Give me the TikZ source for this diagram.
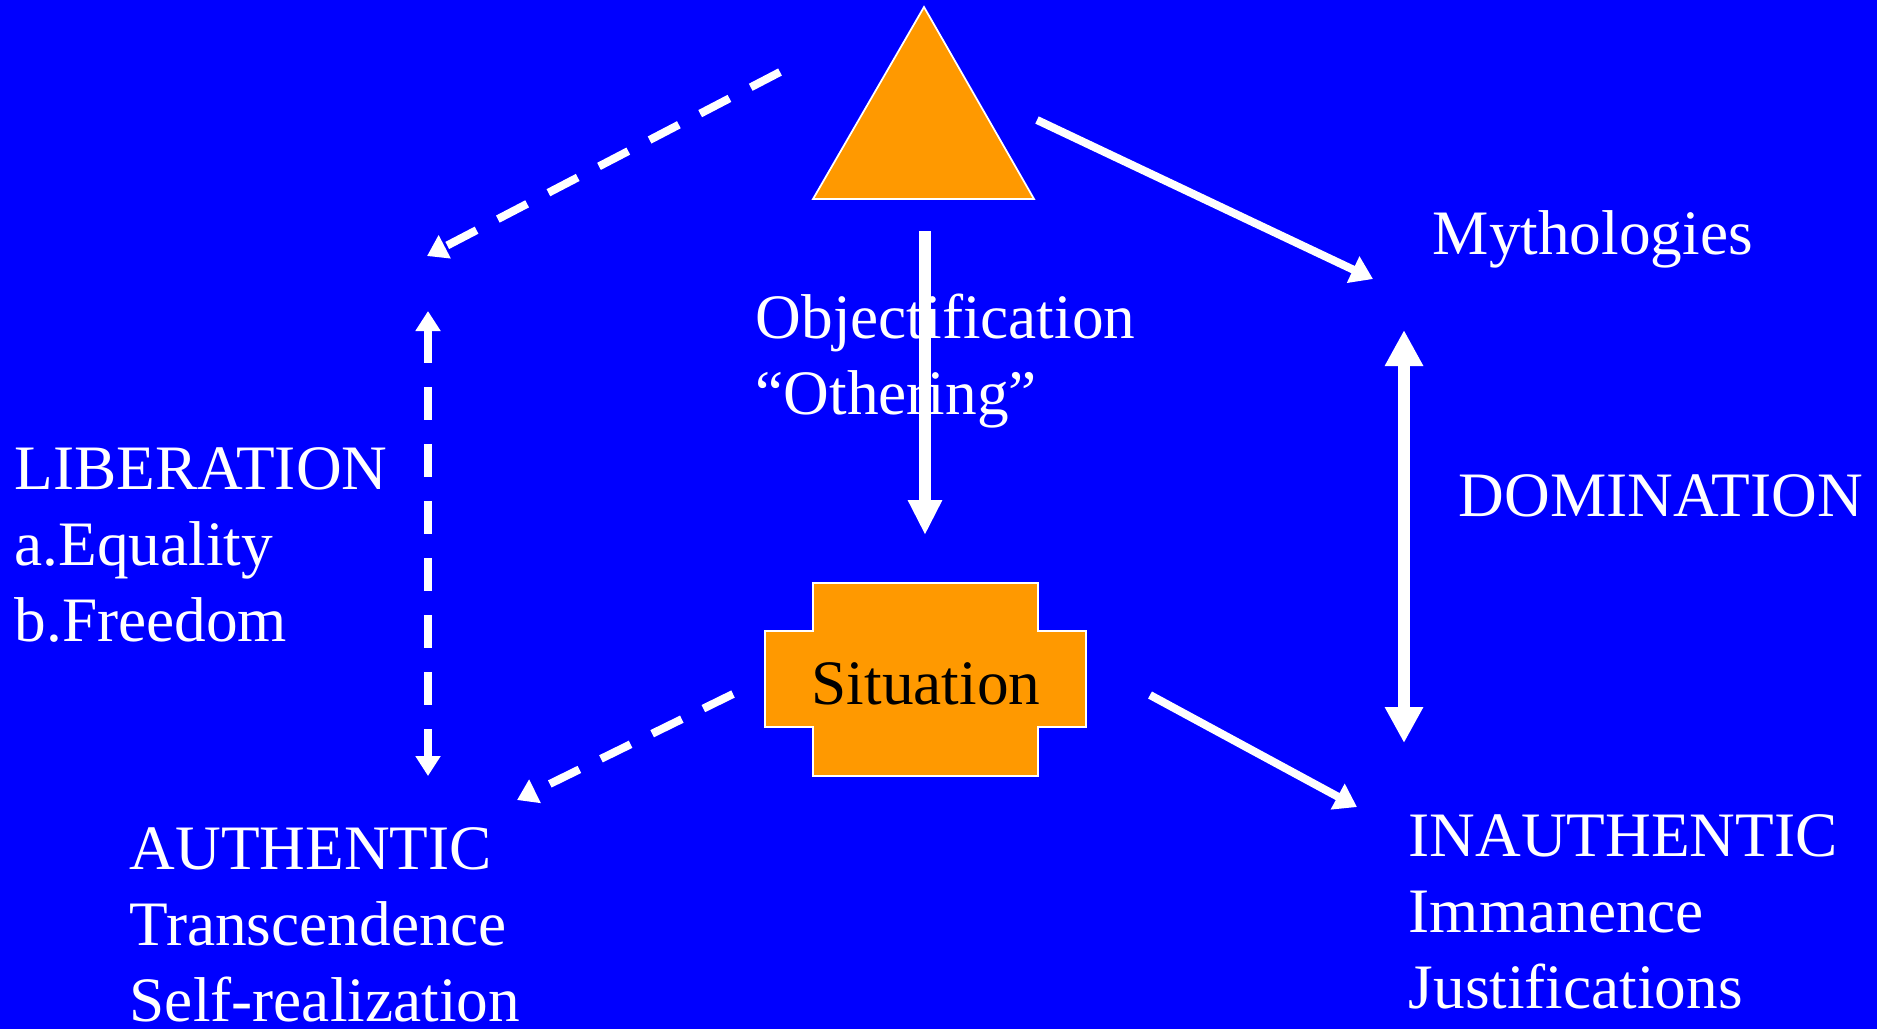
\documentclass[tikz,border=0pt]{standalone}
\usepackage{fontspec}
\setmainfont{Liberation Serif}
\usetikzlibrary{arrows.meta}
\definecolor{slide_blue}{RGB}{0, 0, 255}
\definecolor{amber}{RGB}{255, 153, 0}

\begin{document}
\begin{tikzpicture}[
    x=0.01cm, y=-0.01cm,
    % Node styles
    caption/.style={
        text=#1,
        inner sep=0pt,
        align=left,
        font=\fontsize{18}{21.5}\selectfont
    },
    caption/.default=white,
    block/.style={
        fill=amber,
        draw=white,
        line width=0.5pt
    },
    arrow/.style={
        -{Triangle[length=0.22cm, width=0.28cm]},
        draw=white,
        line width=0.08cm,
        #1
    },
    thick_arrow/.style={
        -{Triangle[length=0.35cm, width=0.32cm]},
        draw=white,
        line width=0.115cm
    },
    double_arrow/.style={
        {Triangle[length=0.36cm, width=0.36cm]}-{Triangle[length=0.36cm, width=0.36cm]},
        draw=white,
        line width=0.12cm
    },
    dash_arrow/.style={
        -{Triangle[length=0.2cm, width=0.25cm]},
        draw=white,
        line width=0.08cm,
        dash pattern=on 0.33cm off 0.24cm
    },
    dash_double/.style={
        {Triangle[length=0.2cm, width=0.24cm]}-{Triangle[length=0.2cm, width=0.24cm]},
        draw=white,
        line width=0.08cm,
        dash pattern=on 0.33cm off 0.24cm
    }
]

% Background
\fill[slide_blue] (0,0) rectangle (1877,1029);

% Shapes
\filldraw[block] (924,7) -- (1034,199) -- (813,199) -- cycle;
\filldraw[block] (813,583) -- (1038,583) -- (1038,631) -- (1086,631) -- (1086,727)
    -- (1038,727) -- (1038,776) -- (813,776) -- (813,727) -- (765,727) -- (765,631)
    -- (813,631) -- cycle;

% Position nodes (base of a multi-line node is its last line)
\node[caption=black, anchor=base] (situation) at (926,704) {Situation};
\node[caption, anchor=base west] (mythologies) at (1432,254) {Mythologies};
\node[caption, anchor=base west] (objectification) at (755,414) {Objectification\\“Othering”};
\node[caption, anchor=base west] (domination) at (1458,516) {DOMINATION};
\node[caption, anchor=base west] (liberation) at (14,641) {LIBERATION\\a.Equality\\b.Freedom};
\node[caption, anchor=base west] (authentic) at (129,1021) {AUTHENTIC\\Transcendence\\Self-realization};
\node[caption, anchor=base west] (inauthentic) at (1408,1008) {INAUTHENTIC\\Immanence\\Justifications};

% Connector ends
\coordinate (tri_left) at (780,72);
\coordinate (tri_right) at (1037,120);
\coordinate (tri_below) at (925,231);
\coordinate (sit_left) at (733,694);
\coordinate (sit_right) at (1150,695);
\coordinate (lib_top) at (427,256);
\coordinate (lib_up) at (428,311);
\coordinate (lib_down) at (428,776);
\coordinate (auth_top) at (517,800);
\coordinate (myth_end) at (1373,279);
\coordinate (dom_up) at (1404,330);
\coordinate (dom_down) at (1404,743);
\coordinate (inauth_top) at (1357,807);
\coordinate (obj_end) at (925,535);

\draw[dash_arrow] (tri_left) -- (lib_top);
\draw[dash_double] (lib_up) -- (lib_down);
\draw[dash_arrow] (sit_left) -- (auth_top);
\draw[arrow] (tri_right) -- (myth_end);
\draw[arrow] (sit_right) -- (inauth_top);
\draw[thick_arrow] (tri_below) -- (obj_end);
\draw[double_arrow] (dom_up) -- (dom_down);

\end{tikzpicture}
\end{document}
